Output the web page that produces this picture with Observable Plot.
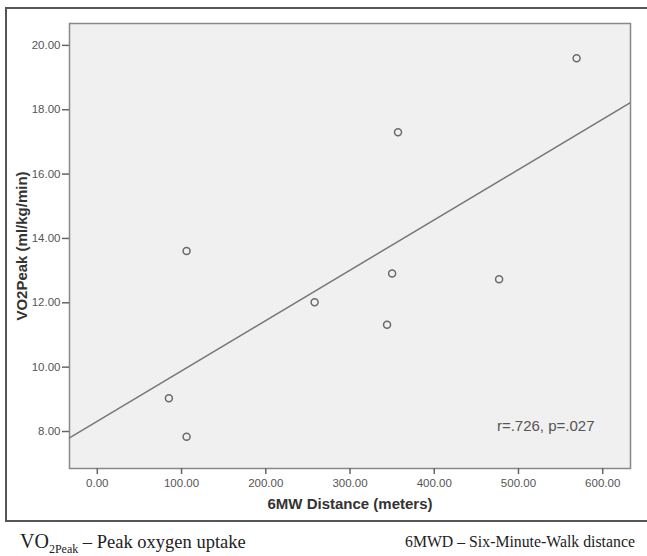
<!DOCTYPE html>
<html><head><meta charset="utf-8">
<script src="https://cdn.jsdelivr.net/npm/d3@7"></script>
<script src="https://cdn.jsdelivr.net/npm/@observablehq/plot@0.6"></script>
<style>
body{margin:0;background:#fff;width:647px;height:556px;overflow:hidden;position:relative;font-family:"Liberation Sans",Arial,sans-serif}
#frame{position:absolute;left:5px;top:7px;width:660px;height:515px;border:2px solid #555;border-right:none;box-sizing:border-box}
#chart{position:absolute;left:0;top:0}
#caption{position:absolute;left:0;top:530px;width:647px;font-family:"Liberation Serif","DejaVu Serif",serif;color:#222;white-space:nowrap}
.cl{position:absolute;left:20px;font-size:18.5px}
.cr{position:absolute;left:405px;font-size:15.8px;top:3px}
.vo{font-size:20px}
sub{font-size:12px;vertical-align:-5px;line-height:0}
</style></head><body>
<div id="frame"></div><div id="chart"></div>
<div id="caption"><span class="cl"><span class="vo">VO</span><sub>2Peak</sub> – Peak oxygen uptake</span><span class="cr">6MWD – Six-Minute-Walk distance</span></div>
<script>
const distance = [85, 106, 106, 258, 344, 350, 357, 477, 569];
const vo2peak = [9.03, 7.84, 13.61, 12.02, 11.32, 12.91, 17.30, 12.73, 19.60];
const xTicks = [0, 100, 200, 300, 400, 500, 600];
const yTicks = [8, 10, 12, 14, 16, 18, 20];
const statsText = "r=.726, p=.027";
const xLabel = "6MW Distance (meters)";
const yLabel = "VO2Peak (ml/kg/min)";
const xDomain = [-33, 633];
const yDomain = [6.85, 20.68];

const points = distance.map((d, i) => ({x: d, y: vo2peak[i]}));
const mx = d3.mean(distance), my = d3.mean(vo2peak);
const slope = d3.sum(points, p => (p.x - mx) * (p.y - my)) / d3.sum(points, p => (p.x - mx) ** 2);
const intercept = my - slope * mx;
const regLine = xDomain.map(x => ({x, y: intercept + slope * x}));

const fmt = d => d.toFixed(2);
const chart = Plot.plot({
  width: 647, height: 525,
  marginLeft: 69, marginRight: 17, marginTop: 23, marginBottom: 57,
  style: {background: "transparent", fontFamily: "'Liberation Sans', Arial, sans-serif", fontSize: "11.5px", color: "#555"},
  x: {domain: xDomain, label: null},
  y: {domain: yDomain, label: null},
  marks: [
    Plot.frame({fill: "#f0f0f0", stroke: "#888", strokeWidth: 1.5}),
    Plot.line(regLine, {x: "x", y: "y", stroke: "#777", strokeWidth: 1.5, clip: true}),
    Plot.dot(points, {x: "x", y: "y", r: 3.5, stroke: "#6a6a6a", strokeWidth: 1.5, fill: "none"}),
    Plot.axisX({ticks: xTicks, tickFormat: fmt, tickSize: 6, tickPadding: 4, stroke: "#666", strokeWidth: 1.5, fill: "#555", label: null}),
    Plot.axisY({ticks: yTicks, tickFormat: fmt, tickSize: 7, tickPadding: 2, stroke: "#666", strokeWidth: 1.5, fill: "#555", label: null}),
    Plot.text([xLabel], {frameAnchor: "bottom", dy: 36, fontWeight: "bold", fontSize: 15, fill: "#333", lineAnchor: "middle"}),
    Plot.text([yLabel], {frameAnchor: "left", dx: -47, rotate: -90, textAnchor: "middle", fontWeight: "bold", fontSize: 15, fill: "#333"}),
    Plot.text([statsText], {frameAnchor: "bottom-right", dx: -36, dy: -42, lineAnchor: "middle", textAnchor: "end", fontSize: 15, fill: "#555"})
  ]
});
document.getElementById("chart").appendChild(chart);
</script>
</body></html>
